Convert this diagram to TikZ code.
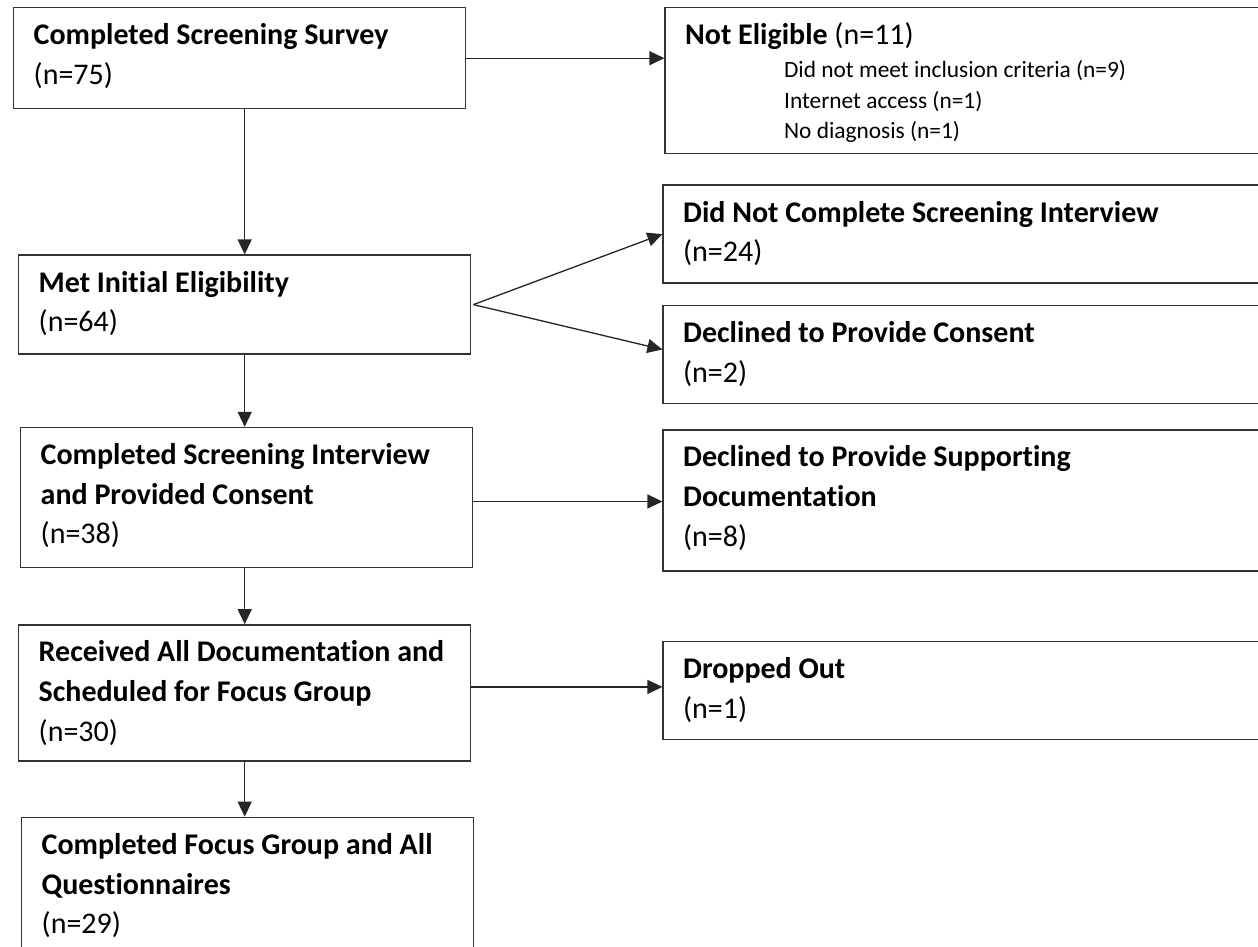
\documentclass[tikz,border=0pt]{standalone}
\usepackage{fontspec}
\setmainfont{Carlito}[Ligatures=NoCommon]
\usetikzlibrary{arrows.meta, positioning}

\newcommand{\subitems}[1]{{\fontsize{13.3pt}{17.4pt}\selectfont\leftskip=1.98cm\vspace{1.4pt}#1\par}}

\begin{document}
\begin{tikzpicture}[
    font=\fontsize{17.07pt}{22.6pt}\selectfont,
    >={Triangle[length=0.3cm, width=0.28cm]},
    box_common/.style={draw=black!80, line width=0.8pt, align=flush left, inner xsep=0.4cm, inner ysep=0pt, text height=0.74cm},
    box_main/.style={box_common, text width=8.24cm},
    box_side/.style={box_common, text width=11.6cm},
    arrow/.style={->, line width=0.75pt, draw=black!85}
]

\useasboundingbox (0,0) rectangle (25.16,-18.94);
\clip (0,0) rectangle (25.16,-18.94);

% Main flow
\node[box_main, text depth=1.28cm, anchor=north west] (survey) at (0.26,-0.14) {\textbf{Completed Screening Survey}\\(n=75)};
\node[box_main, text depth=1.24cm, below right=2.9cm and 0.1cm of survey.south west] (met) {\textbf{Met Initial Eligibility}\\(n=64)};
\node[box_main, text depth=2.06cm, below right=1.44cm and 0.04cm of met.south west] (consent) {\textbf{Completed Screening Interview\\and Provided Consent}\\(n=38)};
\node[box_main, text depth=1.98cm, below right=1.12cm and -0.04cm of consent.south west] (documents) {\textbf{Received All Documentation and\\Scheduled for Focus Group}\\(n=30)};
\node[box_main, text depth=3.0cm, below right=1.1cm and 0.06cm of documents.south west] (completed) {\textbf{Completed Focus Group and All\\Questionnaires}\\(n=29)};

% Exclusions
\node[box_side, text depth=2.18cm, below right=0cm and 3.96cm of survey.north east] (noteligible) {\textbf{Not Eligible} (n=11)\par
    \subitems{Did not meet inclusion criteria (n=9)\\Internet access (n=1)\\No diagnosis (n=1)}};
\node[box_side, text depth=1.22cm, below right=0.6cm and -0.04cm of noteligible.south west] (dnc) {\textbf{Did Not Complete Screening Interview}\\(n=24)};
\node[box_side, text depth=1.22cm, below right=0.42cm and 0cm of dnc.south west] (declined) {\textbf{Declined to Provide Consent}\\(n=2)};
\node[box_side, text depth=2.08cm, below right=0.5cm and 0cm of declined.south west] (supporting) {\textbf{Declined to Provide Supporting\\Documentation}\\(n=8)};
\node[box_side, text depth=1.22cm, below right=1.38cm and 0cm of supporting.south west] (dropped) {\textbf{Dropped Out}\\(n=1)};

% Arrows
\draw[arrow] (survey.east) -- (survey.east -| noteligible.west);
\draw[arrow] (survey.south -| met.north) -- (met.north);

\coordinate (fork) at ([xshift=0.04cm]met.east);
\draw[arrow] (fork) -- (dnc.west);
\draw[arrow] (fork) -- ([yshift=0.1cm]declined.west);

\draw[arrow] (met.south) -- (met.south |- consent.north);
\draw[arrow] ([yshift=-0.08cm]consent.east) -- ([yshift=-0.08cm]consent.east -| supporting.west);
\draw[arrow] (documents.north |- consent.south) -- (documents.north);
\draw[arrow] ([yshift=0.12cm]documents.east) -- ([yshift=0.12cm]documents.east -| dropped.west);
\draw[arrow] (documents.south) -- (documents.south |- completed.north);

\end{tikzpicture}
\end{document}
